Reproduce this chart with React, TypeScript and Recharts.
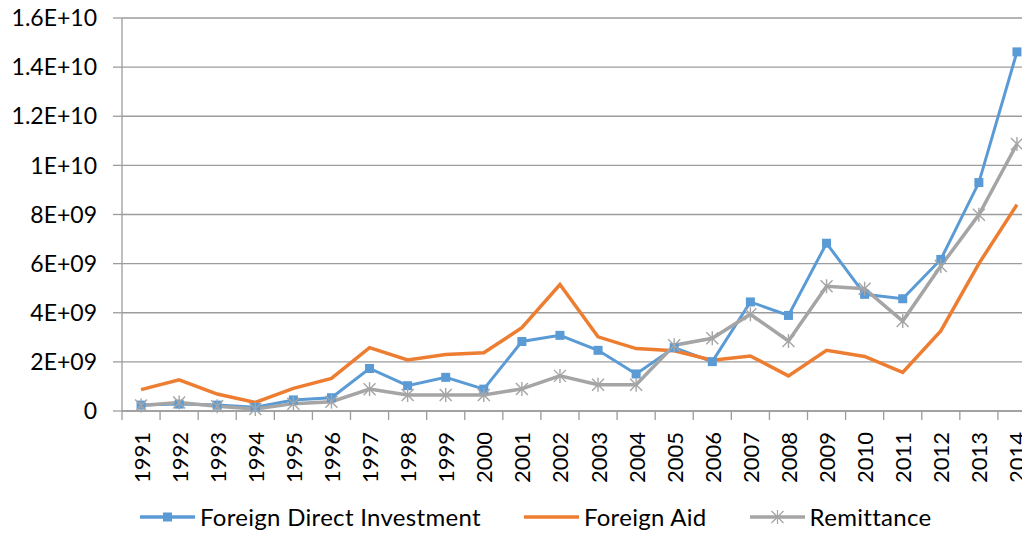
import { LineChart, Line, XAxis, YAxis, CartesianGrid, Legend } from 'recharts';

const years = [
  '1991', '1992', '1993', '1994', '1995', '1996', '1997', '1998', '1999', '2000', '2001', '2002',
  '2003', '2004', '2005', '2006', '2007', '2008', '2009', '2010', '2011', '2012', '2013', '2014',
];

const foreignDirectInvestment = [
  0.24e9, 0.28e9, 0.24e9, 0.15e9, 0.45e9, 0.54e9, 1.73e9, 1.03e9, 1.37e9, 0.89e9, 2.83e9, 3.08e9,
  2.47e9, 1.51e9, 2.58e9, 2.01e9, 4.44e9, 3.89e9, 6.83e9, 4.75e9, 4.57e9, 6.17e9, 9.3e9, 14.62e9,
];

const foreignAid = [
  0.87e9, 1.27e9, 0.69e9, 0.35e9, 0.92e9, 1.33e9, 2.58e9, 2.08e9, 2.3e9, 2.37e9, 3.39e9, 5.15e9,
  3.02e9, 2.54e9, 2.45e9, 2.07e9, 2.24e9, 1.43e9, 2.47e9, 2.22e9, 1.57e9, 3.26e9, 6.0e9, 8.4e9,
];

const remittance = [
  0.22e9, 0.35e9, 0.19e9, 0.08e9, 0.3e9, 0.38e9, 0.89e9, 0.65e9, 0.65e9, 0.65e9, 0.9e9, 1.43e9,
  1.07e9, 1.07e9, 2.68e9, 2.96e9, 3.94e9, 2.85e9, 5.08e9, 4.98e9, 3.66e9, 5.9e9, 7.99e9, 10.87e9,
];

const yTicks = [0, 2e9, 4e9, 6e9, 8e9, 1e10, 1.2e10, 1.4e10, 1.6e10];

const data = years.map((year, i) => ({
  year,
  fdi: foreignDirectInvestment[i],
  aid: foreignAid[i],
  rem: remittance[i],
}));

const BLUE = '#5B9BD5';
const ORANGE = '#ED7D31';
const GRAY = '#A5A5A5';
const GRID = '#9C9C9C';
const FONT = 'Lato, "Open Sans", sans-serif';

// plot spans 914px for 24 categories, Excel puts ticks between them
const STEP = 914 / years.length;

const excelFormat = (v: number) => {
  if (v === 0) return '0';
  const exp = Math.floor(Math.log10(v));
  const mant = Math.round((v / Math.pow(10, exp)) * 10) / 10;
  return `${mant}E+${String(exp).padStart(2, '0')}`;
};

const YearTick = ({ x, y, payload }: any) => {
  const ty = y + 21;
  return (
    <g>
      <line x1={x - STEP / 2} y1={y} x2={x - STEP / 2} y2={y + 9} stroke={GRID} strokeWidth={1.3} />
      <text
        x={x}
        y={ty}
        transform={`rotate(-90, ${x}, ${ty})`}
        textAnchor='end'
        dominantBaseline='central'
        fontSize={22}
        fontFamily={FONT}
        fill='#000'
      >
        {payload.value}
      </text>
    </g>
  );
};

const SquareDot = ({ cx, cy, index }: any) => (
  <rect key={`sq-${index}`} x={cx - 4.5} y={cy - 4.5} width={9} height={9} fill={BLUE} />
);

const StarDot = ({ cx, cy, index }: any) => (
  <g key={`st-${index}`} stroke={GRAY} strokeWidth={1.4}>
    <line x1={cx - 6} y1={cy - 6} x2={cx + 6} y2={cy + 6} />
    <line x1={cx + 6} y1={cy - 6} x2={cx - 6} y2={cy + 6} />
    <line x1={cx} y1={cy - 7} x2={cx} y2={cy + 7} />
  </g>
);

const legendItems = [
  { label: 'Foreign Direct Investment', color: BLUE, marker: 'square' },
  { label: 'Foreign Aid', color: ORANGE, marker: 'none' },
  { label: 'Remittance', color: GRAY, marker: 'star' },
];

const renderLegend = () => (
  <div
    style={{
      display: 'flex',
      alignItems: 'center',
      paddingLeft: 140,
      fontFamily: FONT,
      fontSize: 24,
      letterSpacing: 0.3,
      lineHeight: '26px',
      color: '#000',
      height: 30,
    }}
  >
    {legendItems.map((item) => (
      <div key={item.label} style={{ display: 'flex', alignItems: 'center', marginRight: 43 }}>
        <svg width={55} height={20}>
          <line x1={0} y1={10} x2={55} y2={10} stroke={item.color} strokeWidth={3.5} />
          {item.marker === 'square' && <rect x={23} y={5.5} width={9} height={9} fill={item.color} />}
          {item.marker === 'star' && (
            <g stroke={item.color} strokeWidth={1.2}>
              <line x1={21.5} y1={4} x2={33.5} y2={16} />
              <line x1={33.5} y1={4} x2={21.5} y2={16} />
              <line x1={27.5} y1={3} x2={27.5} y2={17} />
            </g>
          )}
        </svg>
        <span style={{ marginLeft: 5 }}>{item.label}</span>
      </div>
    ))}
  </div>
);

export default function App() {
  return (
    <div style={{ margin: -8, width: 1030, height: 538, overflow: 'hidden' }}>
      <LineChart
        width={1037}
        height={538}
        data={data}
        margin={{ top: 18, right: 1, bottom: 0, left: 0 }}
      >
        <CartesianGrid vertical={false} stroke={GRID} strokeWidth={1.3} />
        <XAxis
          dataKey='year'
          height={97}
          interval={0}
          padding={{ left: STEP / 2, right: STEP / 2 }}
          tickSize={0}
          tickMargin={0}
          tick={<YearTick />}
          axisLine={{ stroke: GRID, strokeWidth: 1.3 }}
        />
        <YAxis
          width={122}
          domain={[0, 1.6e10]}
          ticks={yTicks}
          tickFormatter={excelFormat}
          tickSize={9}
          tickMargin={16}
          tickLine={{ stroke: GRID, strokeWidth: 1.3 }}
          axisLine={{ stroke: GRID, strokeWidth: 1.3 }}
          tick={{ fontSize: 23, fontFamily: FONT, fill: '#000' }}
        />
        <Legend
          verticalAlign='bottom'
          height={30}
          content={renderLegend}
          wrapperStyle={{ bottom: 6, height: 30 }}
        />
        <Line
          dataKey='fdi'
          name='Foreign Direct Investment'
          stroke={BLUE}
          strokeWidth={3}
          dot={SquareDot}
          activeDot={false}
          isAnimationActive={false}
        />
        <Line
          dataKey='aid'
          name='Foreign Aid'
          stroke={ORANGE}
          strokeWidth={3.5}
          dot={false}
          activeDot={false}
          isAnimationActive={false}
        />
        <Line
          dataKey='rem'
          name='Remittance'
          stroke={GRAY}
          strokeWidth={3.5}
          dot={StarDot}
          activeDot={false}
          isAnimationActive={false}
        />
      </LineChart>
    </div>
  );
}
